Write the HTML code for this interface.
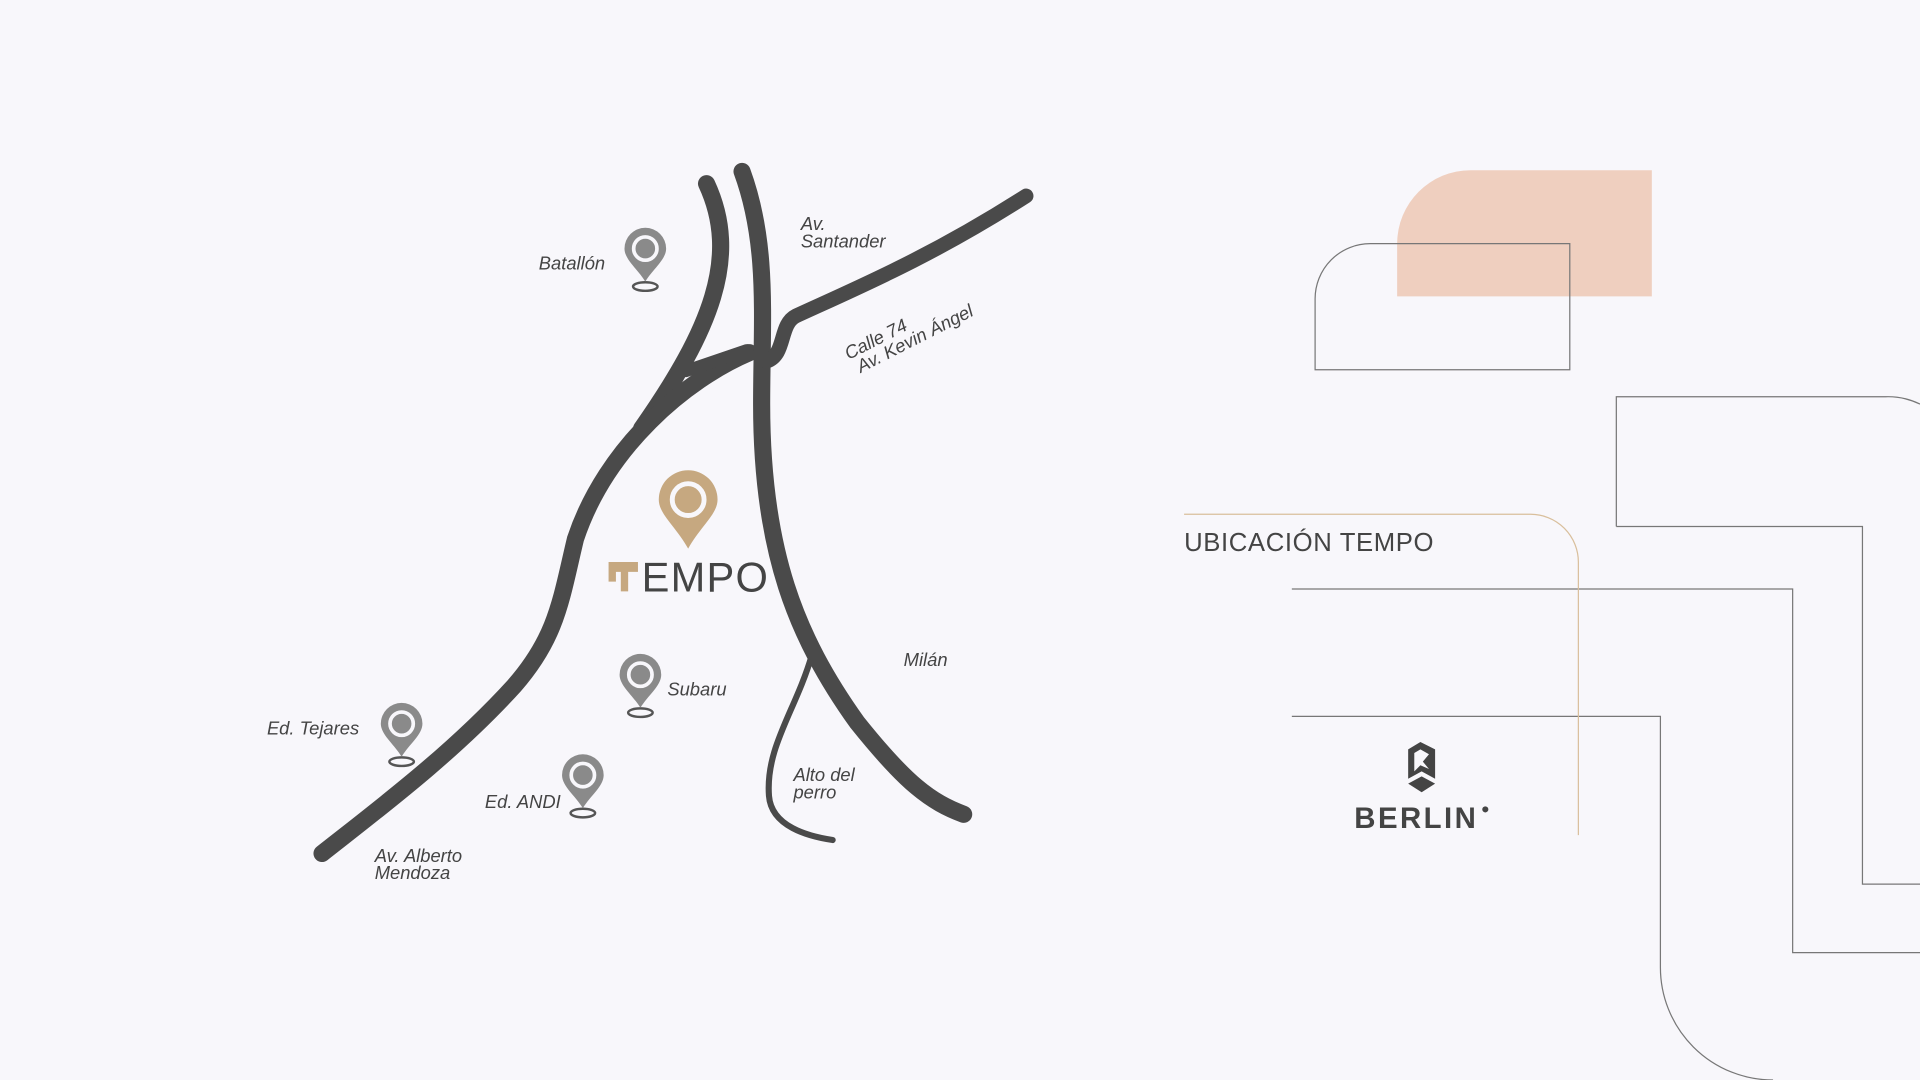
<!DOCTYPE html>
<html><head><meta charset="utf-8"><style>
html,body{margin:0;padding:0;background:#f8f7fb;}
svg{display:block}
text{font-family:"Liberation Sans",sans-serif;}
</style></head><body>
<svg width="1920" height="1080" viewBox="0 0 1568 882" xmlns="http://www.w3.org/2000/svg">
<rect width="1568" height="882" fill="#f8f7fb"/>
<defs>
<g id="pin">
<ellipse cx="0" cy="24" rx="10" ry="3.5" fill="none" stroke="#555" stroke-width="2"/>
<path d="M0,20 C-6,10 -17,2 -17,-7 A17,17 0 1 1 17,-7 C17,2 6,10 0,20 Z" fill="#8a8a8a"/>
<circle cx="0" cy="-7" r="9.5" fill="#8a8a8a" stroke="#f8f7fb" stroke-width="3"/>
</g>
</defs>
<g fill="none" stroke="#4a4a4a" stroke-linecap="round" stroke-width="14">
<path d="M577,150 C605,210 580,270 524,350"/>
<path d="M612,288 C560,310 495,365 470,440 C458,490 455,520 420,560 C370,615 310,660 263,697"/>
<path d="M560,303 L610,286" stroke-width="10"/>
<path d="M606,140 C628,200 622,260 622,330 C622,450 650,520 700,590 C740,640 760,655 787,665"/>
<path d="M838,160 C760,210 700,235 650,258 C636,265 642,290 626,295" stroke-width="12"/>
<path d="M663,535 C650,580 625,610 628,650 C630,675 660,683 680,686" stroke-width="5"/>
</g>
<use href="#pin" x="527" y="210"/>
<use href="#pin" x="523" y="558"/>
<use href="#pin" x="328" y="598"/>
<use href="#pin" x="476" y="640"/>
<path d="M562,448 C552,430 538,420 538,408 A24,24 0 1 1 586,408 C586,420 572,430 562,448 Z" fill="#c6a880"/>
<circle cx="562" cy="408" r="13" fill="#c6a880" stroke="#f8f7fb" stroke-width="4"/>
<path d="M497,459 h24 v8 h-8 v16 h-6 v-16 h-4 v8 h-6 z" fill="#c6a880"/>
<text x="524" y="483" font-size="34" fill="#444" letter-spacing="1">EMPO</text>
<g font-style="italic" font-size="15" fill="#444">
<text x="440" y="220">Batallón</text>
<text x="654" y="188">Av.</text>
<text x="654" y="202">Santander</text>
<text x="545" y="568">Subaru</text>
<text x="218" y="600">Ed. Tejares</text>
<text x="396" y="660">Ed. ANDI</text>
<text x="738" y="544">Milán</text>
<text x="648" y="638">Alto del</text>
<text x="648" y="652">perro</text>
<text x="306" y="704">Av. Alberto</text>
<text x="306" y="718">Mendoza</text>
<g transform="translate(693,294) rotate(-27)"><text x="0" y="0">Calle 74</text><text x="4" y="14">Av. Kevin Ángel</text></g>
</g>
<path d="M1141,242 V199 A60,60 0 0 1 1201,139 H1349 V242 Z" fill="#efcfbf"/>
<path d="M1074,302 V244 A45,45 0 0 1 1119,199 H1282 V302 Z" fill="none" stroke="#777" stroke-width="1"/>
<g fill="none" stroke="#777" stroke-width="1">
<path d="M1320,430 V324 H1540 A60,60 0 0 1 1568,330"/>
<path d="M1320,430 H1521 V722 H1568"/>
<path d="M1055,481 H1464 V778 H1568"/>
<path d="M1055,585 H1356 V790 A92,92 0 0 0 1448,882"/>
</g>
<path d="M967,420 H1250 A39,39 0 0 1 1289,459 V682" fill="none" stroke="#d9bf9c" stroke-width="1"/>
<text x="967" y="450" font-size="21" fill="#444" letter-spacing="0.5">UBICACIÓN TEMPO</text>
<path d="M1150,612 L1160,606 L1172,612 V636 L1161,630 L1150,636 Z" fill="#444"/>
<path d="M1150,640 L1161,634 L1172,640 L1161,647 Z" fill="#444"/>
<path d="M1155,615 L1160,612 L1167,616 L1162,622 L1167,628 L1160,625 L1155,630 Z" fill="#f8f7fb"/>
<text x="1106" y="676" font-size="24" font-weight="bold" fill="#444" letter-spacing="2">BERLIN</text>
<circle cx="1213" cy="661" r="2.5" fill="#444"/>
</svg>
</body></html>
